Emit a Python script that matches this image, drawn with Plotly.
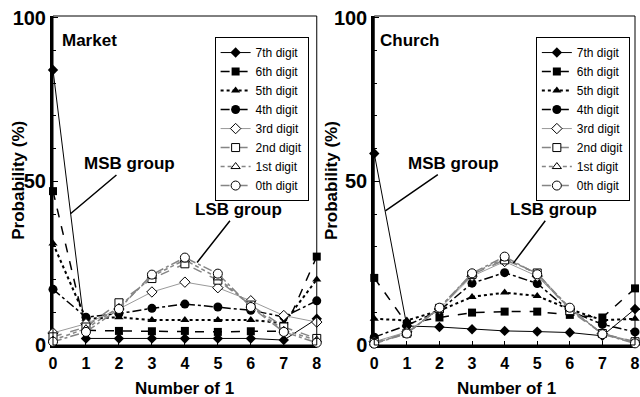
import plotly.graph_objects as go

x_vals = [0, 1, 2, 3, 4, 5, 6, 7, 8]
series_names = ["7th digit", "6th digit", "5th digit", "4th digit",
                "3rd digit", "2nd digit", "1st digit", "0th digit"]

market_7 = [84, 2, 2, 2, 2, 2, 2, 1.5, 8]
market_6 = [47, 4.5, 4.3, 4.2, 4.3, 4.0, 4.2, 4.2, 27]
market_5 = [31, 8, 8.5, 7.6, 7.6, 7.6, 7.6, 6.7, 20]
market_4 = [17, 8.5, 9.6, 11.2, 12.5, 11.6, 10.6, 8.6, 13.5]
market_3 = [3.7, 6.5, 11, 16.2, 19.2, 17.5, 13.5, 9, 7]
market_2 = [2.5, 5.5, 12.9, 20.3, 24.8, 19.8, 12.2, 5.5, 2]
market_1 = [1.5, 5, 11.5, 21, 26, 20.5, 12, 4.5, 1.5]
market_0 = [1, 4, 11, 21.5, 26.7, 21.8, 11.6, 4, 0.7]

church_7 = [58.5, 5.8, 5.5, 4.8, 4.3, 4.1, 3.8, 2.8, 11]
church_6 = [20.5, 6.5, 8.4, 9.9, 10.2, 10.2, 9.2, 8.4, 17.3]
church_5 = [8, 7.5, 10.5, 14.7, 16, 15, 10.9, 7.6, 8]
church_4 = [2.4, 6, 10.5, 18.9, 22.1, 18.8, 10.4, 6.3, 4]
church_3 = [1, 4, 11, 21, 25.5, 21, 11, 3.5, 1]
church_2 = [0.8, 3.6, 11.2, 21.5, 26, 22, 10.5, 3.5, 1]
church_1 = [0.6, 3.5, 11.3, 21.7, 26.5, 21.8, 11, 3.4, 0.7]
church_0 = [0.4, 3.5, 11.4, 21.9, 27, 21.6, 11.4, 3.3, 0.5]

market = [market_7, market_6, market_5, market_4, market_3, market_2, market_1, market_0]
church = [church_7, church_6, church_5, church_4, church_3, church_2, church_1, church_0]

FONT = "Liberation Sans, Arial, sans-serif"
G1 = "#9a9a9a"
G2 = "#858585"
styles = [
    dict(line=dict(color="black", width=1, dash="solid"),
         marker=dict(symbol="diamond", size=8, color="black")),
    dict(line=dict(color="black", width=1.5, dash="dash"),
         marker=dict(symbol="square", size=8, color="black")),
    dict(line=dict(color="black", width=2, dash="dot"),
         marker=dict(symbol="triangle-up", size=8, color="black")),
    dict(line=dict(color="black", width=1.5, dash="dashdot"),
         marker=dict(symbol="circle", size=9, color="black")),
    dict(line=dict(color=G1, width=1, dash="solid"),
         marker=dict(symbol="diamond", size=8, color="white", line=dict(color="black", width=1))),
    dict(line=dict(color=G2, width=1.5, dash="dash"),
         marker=dict(symbol="square", size=8, color="white", line=dict(color="black", width=1))),
    dict(line=dict(color=G2, width=1.5, dash="4px,3px"),
         marker=dict(symbol="triangle-up", size=8, color="white", line=dict(color="black", width=1))),
    dict(line=dict(color=G2, width=1.5, dash="dashdot"),
         marker=dict(symbol="circle", size=9, color="white", line=dict(color="black", width=1))),
]

fig = go.Figure()
for name, ys, st in zip(series_names, market, styles):
    fig.add_trace(go.Scatter(x=x_vals, y=ys, name=name, mode="lines+markers",
                             xaxis="x", yaxis="y", legend="legend",
                             cliponaxis=False, **st))
for name, ys, st in zip(series_names, church, styles):
    fig.add_trace(go.Scatter(x=x_vals, y=ys, name=name, mode="lines+markers",
                             xaxis="x2", yaxis="y2", legend="legend2",
                             cliponaxis=False, **st))

xax = dict(range=[0, 8], tickvals=x_vals, ticktext=[f"<b>{v}</b>" for v in x_vals],
           ticks="inside", ticklen=4, tickcolor="black",
           showline=True, linewidth=3, linecolor="black", layer="below traces",
           showgrid=False, zeroline=False, ticklabelstandoff=2,
           ticklabeloverflow="allow",
           tickfont=dict(family=FONT, size=16, color="black"))
yax = dict(range=[0, 100.5], tickvals=[0, 50, 100],
           ticktext=["<b>0</b>", "<b>50</b>", "<b>100</b>"],
           ticks="inside", ticklen=5, tickcolor="black",
           minor=dict(tick0=0, dtick=10, ticks="inside", ticklen=3, tickcolor="black"),
           showline=True, linewidth=3, linecolor="black", layer="below traces",
           showgrid=False, zeroline=False, ticklabeloverflow="allow",
           tickfont=dict(family=FONT, size=20, color="black"))

leg = dict(y=0.936, xanchor="left", yanchor="top",
           bgcolor="white", bordercolor="black", borderwidth=1,
           font=dict(family=FONT, size=12, color="black"),
           tracegroupgap=0, itemwidth=30)

fig.update_layout(
    width=640, height=397,
    margin=dict(l=53, r=0, t=16, b=52),
    paper_bgcolor="white", plot_bgcolor="white",
    font=dict(family=FONT, color="black"),
    xaxis=dict(domain=[0, 0.4532], anchor="y", **xax),
    yaxis=dict(domain=[0, 1], anchor="x", **yax),
    xaxis2=dict(domain=[0.552, 1.0], anchor="y2", **xax),
    yaxis2=dict(domain=[0, 1], anchor="x2", **yax),
    legend=dict(x=(216 - 53) / 587, **leg),
    legend2=dict(x=(540 - 53) / 587, **leg),
    showlegend=True,
)

for xr, yr in [("x", "y"), ("x2", "y2")]:
    fig.add_shape(type="rect", xref=f"{xr} domain", yref=f"{yr} domain",
                  x0=0, x1=1, y0=0, y1=1, line=dict(color="black", width=1), layer="above")

bfont = dict(family=FONT, color="black")
ann = []
ann.append(dict(text="<b>Market</b>", x=0.2, y=93, xref="x", yref="y", xanchor="left",
                showarrow=False, font=dict(size=17, **bfont)))
ann.append(dict(text="<b>Church</b>", x=0.12, y=93, xref="x2", yref="y2", xanchor="left",
                showarrow=False, font=dict(size=17, **bfont)))
for xr, yr, tx, ty, hx, hy, label in [
    ("x", "y", 2.32, 55.3, 0.53, 40.1, "MSB group"),
    ("x", "y", 5.63, 41.3, 4.37, 25.2, "LSB group"),
    ("x2", "y2", 2.44, 55.4, 0.34, 41.0, "MSB group"),
    ("x2", "y2", 5.5, 41.3, 4.27, 25.0, "LSB group"),
]:
    ann.append(dict(text=f"<b>{label}</b>", x=hx, y=hy, xref=xr, yref=yr,
                    ax=tx, ay=ty, axref=xr, ayref=yr,
                    showarrow=True, arrowhead=0, arrowwidth=1.5, arrowcolor="black",
                    standoff=0, startstandoff=0,
                    font=dict(size=17, **bfont)))
for xc in [186, 510]:
    ann.append(dict(text="<b>Number of 1</b>", x=(xc - 53) / 587, y=(345 - 388) / 329,
                    xref="paper", yref="paper",
                    xanchor="center", yanchor="middle", showarrow=False,
                    font=dict(size=17, **bfont)))
for xc in [18, 334]:
    ann.append(dict(text="<b>Probability (%)</b>", x=(xc - 53) / 587, y=0.5,
                    xref="paper", yref="paper", xanchor="center", yanchor="middle",
                    textangle=-90, showarrow=False, font=dict(size=17, **bfont)))
fig.update_layout(annotations=ann)

fig.write_html("out.html")
